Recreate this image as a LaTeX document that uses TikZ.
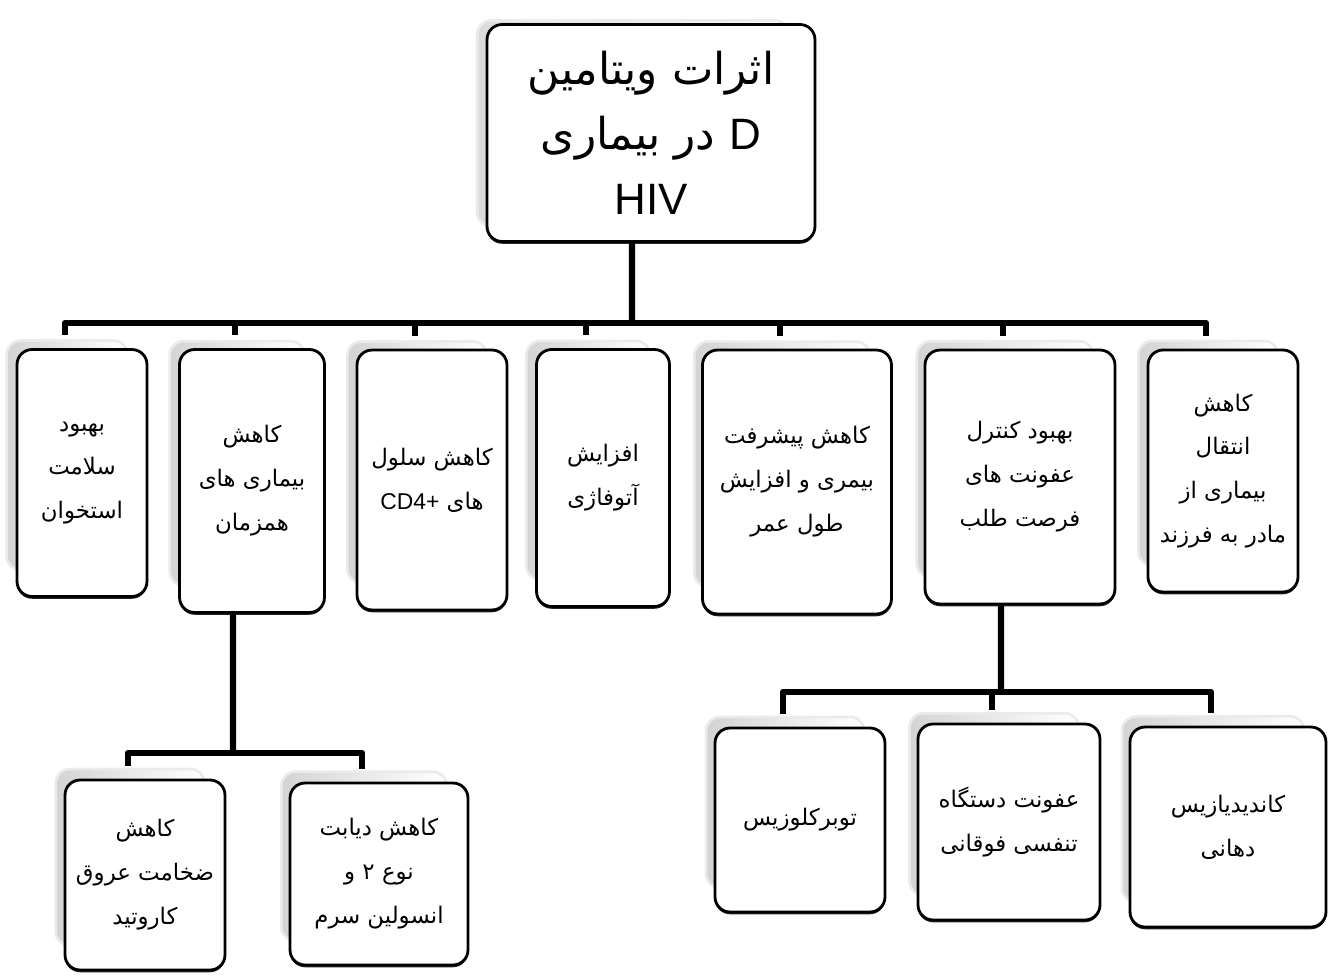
\documentclass[tikz,border=0pt]{standalone}
\usepackage{fontspec}
\setmainfont{Liberation Sans}
\newfontfamily\arabicfont[Script=Arabic]{DejaVu Sans}
\TeXXeTstate=1
\usepackage{tikz}
\usetikzlibrary{shadows}
\newcommand{\faline}[1]{\beginR #1\endR}
\newcommand{\latn}[1]{\beginL{\rmfamily #1}\endL}
\tikzset{
    ghost/.style={
        copy shadow={shadow xshift=-0.32cm, shadow yshift=0.38cm,
            shadow scale=0.93,
            draw=black!8, left color=black!17, right color=white}
    },
    headghost/.style={
        copy shadow={shadow xshift=-0.38cm, shadow yshift=0.2cm,
            shadow scale=0.95,
            draw=black!8, left color=black!14, right color=white}
    },
    heavybase/.style={
        drop shadow={shadow xshift=0pt, shadow yshift=-1.3pt,
            fill=black, opacity=0.85}
    },
    card/.style={
        rectangle,
        rounded corners=0.3cm,
        draw=black,
        line width=1.6pt,
        fill=white,
        align=center
    },
    link/.style={
        line width=3.6pt,
        line join=round
    }
}
\tikzstyle{headbox} = [card, headghost, heavybase, font=\arabicfont\fontsize{25}{37}\selectfont]
\tikzstyle{leaf} = [card, ghost, heavybase, font=\arabicfont\fontsize{13}{25}\selectfont]

\begin{document}
\begin{tikzpicture}[x=0.02cm, y=-0.02cm]
    \useasboundingbox (0,0) rectangle (1330,975);
    \node (top) [headbox, minimum width=6.56cm, minimum height=4.34cm] at (651,133) {\faline{اثرات ویتامین}\\\faline{\latn{D} در بیماری}\\\latn{HIV}};
    \node (b1) [leaf, minimum width=2.6cm, minimum height=4.94cm] at (82,473) {\faline{بهبود}\\\faline{سلامت}\\\faline{استخوان}};
    \node (b2) [leaf, minimum width=2.9cm, minimum height=5.26cm] at (252,481) {\faline{کاهش}\\\faline{بیماری های}\\\faline{همزمان}};
    \node (b3) [leaf, minimum width=3.0cm, minimum height=5.2cm] at (432,480) {\faline{کاهش سلول}\\\faline{های \latn{CD4+}}};
    \node (b4) [leaf, minimum width=2.66cm, minimum height=5.14cm] at (603,478) {\faline{افزایش}\\\faline{آتوفاژی}};
    \node (b5) [leaf, minimum width=3.78cm, minimum height=5.28cm] at (797,482) {\faline{کاهش پیشرفت}\\\faline{بیمری و افزایش}\\\faline{طول عمر}};
    \node (b6) [leaf, minimum width=3.8cm, minimum height=5.08cm] at (1020,477) {\faline{بهبود کنترل}\\\faline{عفونت های}\\\faline{فرصت طلب}};
    \node (b7) [leaf, minimum width=3.0cm, minimum height=4.84cm] at (1223,471) {\faline{کاهش}\\\faline{انتقال}\\\faline{بیماری از}\\\faline{مادر به فرزند}};
    \node (c1) [leaf, minimum width=3.2cm, minimum height=3.8cm] at (145,875) {\faline{کاهش}\\\faline{ضخامت عروق}\\\faline{کاروتید}};
    \node (c2) [leaf, minimum width=3.56cm, minimum height=3.64cm] at (379,874) {\faline{کاهش دیابت}\\\faline{نوع ۲ و}\\\faline{انسولین سرم}};
    \node (d1) [leaf, minimum width=3.4cm, minimum height=3.68cm] at (800,820) {\faline{توبرکلوزیس}};
    \node (d2) [leaf, minimum width=3.64cm, minimum height=3.92cm] at (1009,822) {\faline{عفونت دستگاه}\\\faline{تنفسی فوقانی}};
    \node (d3) [leaf, minimum width=3.92cm, minimum height=4.0cm] at (1228,827) {\faline{کاندیدیازیس}\\\faline{دهانی}};

    \coordinate (bus1) at (632,323);
    \coordinate (bus2) at (233,753);
    \coordinate (bus3) at (1001,692);
    \draw [link] ([xshift=-0.38cm]top.south) -- (bus1);
    \foreach \n in {b1,b2,b3,b4,b5,b6,b7}
        \draw [link] (bus1) -| ([xshift=-0.34cm,yshift=0.26cm]\n.north);
    \draw [link] ([xshift=-0.38cm]b2.south) -- (bus2);
    \foreach \n in {c1,c2}
        \draw [link] (bus2) -| ([xshift=-0.34cm,yshift=0.26cm]\n.north);
    \draw [link] ([xshift=-0.38cm]b6.south) -- (bus3);
    \foreach \n in {d1,d2,d3}
        \draw [link] (bus3) -| ([xshift=-0.34cm,yshift=0.26cm]\n.north);
\end{tikzpicture}
\end{document}
